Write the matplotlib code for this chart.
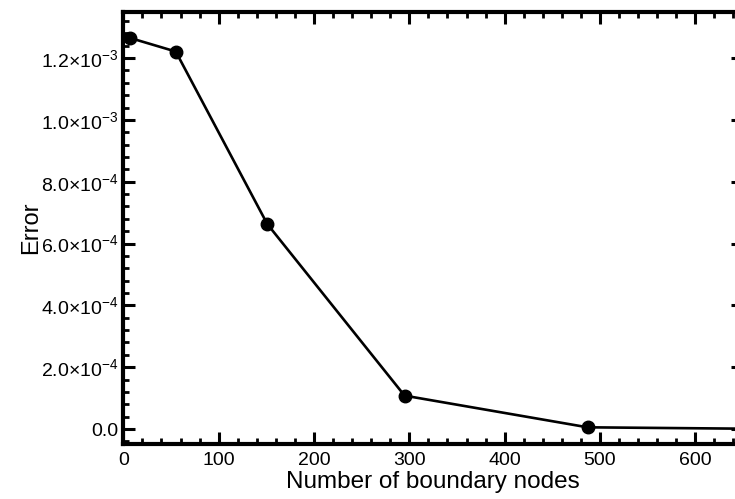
import matplotlib
matplotlib.use("Agg")
import matplotlib.pyplot as plt
from matplotlib.ticker import MultipleLocator, FixedLocator, FixedFormatter

plt.rcParams['font.family'] = ['Liberation Sans', 'DejaVu Sans']
plt.rcParams['mathtext.fontset'] = 'custom'
plt.rcParams['mathtext.rm'] = 'Liberation Sans'
plt.rcParams['mathtext.it'] = 'Liberation Sans:italic'
plt.rcParams['mathtext.bf'] = 'Liberation Sans:bold'

# Data
boundary_nodes = [7, 55, 151, 295, 487, 727]
error = [1.265e-3, 1.221e-3, 6.63e-4, 1.08e-4, 5.5e-6, -1.0e-6]

y_ticks = [0.0, 2e-4, 4e-4, 6e-4, 8e-4, 1.0e-3, 1.2e-3]
y_tick_labels = ["0.0",
                 r"$\mathregular{2.0{\times}10^{-4}}$",
                 r"$\mathregular{4.0{\times}10^{-4}}$",
                 r"$\mathregular{6.0{\times}10^{-4}}$",
                 r"$\mathregular{8.0{\times}10^{-4}}$",
                 r"$\mathregular{1.0{\times}10^{-3}}$",
                 r"$\mathregular{1.2{\times}10^{-3}}$"]
x_ticks = [0, 100, 200, 300, 400, 500, 600]
x_tick_labels = ["0", "100", "200", "300", "400", "500", "600"]

fig = plt.figure(figsize=(7.35, 4.99), dpi=100)
ax = fig.add_axes([0.1678, 0.1102, 1.0109 - 0.1678, 0.976 - 0.1102])

ax.plot(boundary_nodes, error, color='black', linewidth=1.9, marker='o',
        markersize=9, markerfacecolor='black', markeredgecolor='black')

ax.set_xlim(0, 650)
ax.set_ylim(-4.85e-5, 1.349e-3)

ax.xaxis.set_major_locator(FixedLocator(x_ticks))
ax.xaxis.set_major_formatter(FixedFormatter(x_tick_labels))
ax.xaxis.set_minor_locator(MultipleLocator(20))
ax.yaxis.set_major_locator(FixedLocator(y_ticks))
ax.yaxis.set_major_formatter(FixedFormatter(y_tick_labels))
ax.yaxis.set_minor_locator(MultipleLocator(4e-5))

for sp in ax.spines.values():
    sp.set_linewidth(3)

ax.tick_params(which='both', direction='in', top=True, right=True, colors='black')
ax.tick_params(which='major', length=8.5, width=2.2, labelsize=14)
ax.tick_params(which='minor', length=4.2, width=2.0)
ax.tick_params(axis='y', which='major', pad=3.5)
ax.tick_params(axis='x', which='major', pad=5.5)

ax.set_xlabel("Number of boundary nodes", fontsize=17.5, labelpad=1.5)
ax.set_ylabel("Error", fontsize=17, labelpad=-1)

fig.savefig("out.png", dpi=100)
